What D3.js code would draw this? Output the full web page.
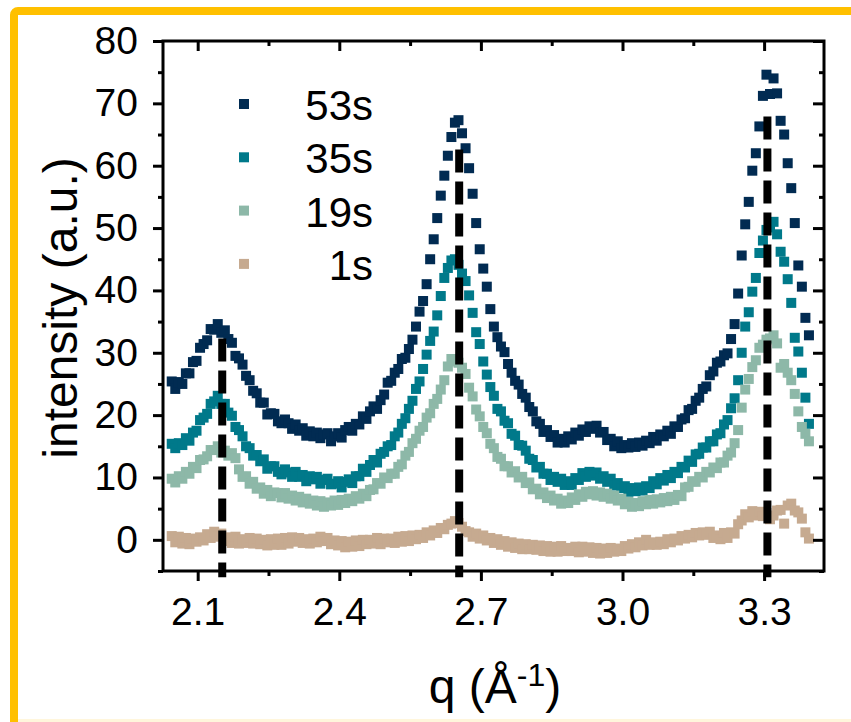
<!DOCTYPE html>
<html>
<head>
<meta charset="utf-8">
<script src="https://cdn.jsdelivr.net/npm/d3@7/dist/d3.min.js"></script>
<style>
  html, body { margin: 0; padding: 0; background: #fff; }
  svg { display: block; }
  text { font-family: "Liberation Sans", Arial, Helvetica, sans-serif; fill: #000; }
</style>
</head>
<body>
<svg id="chart" width="851" height="722"></svg>
<script>
// Scattering vector q (1/Å), shared by every time point
const qValues = [
  2.045,2.0525,2.06,2.0675,2.075,2.0825,2.09,2.0975,2.105,2.1125,
  2.12,2.1275,2.135,2.1425,2.15,2.1575,2.165,2.1725,2.18,2.1875,
  2.195,2.2025,2.21,2.2175,2.225,2.2325,2.24,2.2475,2.255,2.2625,
  2.27,2.2775,2.285,2.2925,2.3,2.3075,2.315,2.3225,2.33,2.3375,
  2.345,2.3525,2.36,2.3675,2.375,2.3825,2.39,2.3975,2.405,2.4125,
  2.42,2.4275,2.435,2.4425,2.45,2.4575,2.465,2.4725,2.48,2.4875,
  2.495,2.5025,2.51,2.5175,2.525,2.5325,2.54,2.5475,2.555,2.5625,
  2.57,2.5775,2.585,2.5925,2.6,2.6075,2.615,2.6225,2.63,2.6375,
  2.645,2.6525,2.66,2.6675,2.675,2.6825,2.69,2.6975,2.705,2.7125,
  2.72,2.7275,2.735,2.7425,2.75,2.7575,2.765,2.7725,2.78,2.7875,
  2.795,2.8025,2.81,2.8175,2.825,2.8325,2.84,2.8475,2.855,2.8625,
  2.87,2.8775,2.885,2.8925,2.9,2.9075,2.915,2.9225,2.93,2.9375,
  2.945,2.9525,2.96,2.9675,2.975,2.9825,2.99,2.9975,3.005,3.0125,
  3.02,3.0275,3.035,3.0425,3.05,3.0575,3.065,3.0725,3.08,3.0875,
  3.095,3.1025,3.11,3.1175,3.125,3.1325,3.14,3.1475,3.155,3.1625,
  3.17,3.1775,3.185,3.1925,3.2,3.2075,3.215,3.2225,3.23,3.2375,
  3.245,3.2525,3.26,3.2675,3.275,3.2825,3.29,3.2975,3.305,3.3125,
  3.32,3.3275,3.335,3.3425,3.35,3.3575,3.365,3.3725,3.38,3.3875,
  3.395
];

// Intensity (a.u.) at 53 s
const intensity53s = [
  25.4,24.2,25.3,25.0,26.7,26.7,28.5,28.7,30.8,31.4,
  32.0,33.8,33.7,34.6,33.2,33.6,32.2,31.6,29.5,29.1,
  28.1,26.3,25.6,23.9,23.5,22.0,22.0,20.1,20.3,20.2,
  19.0,18.7,19.3,18.7,17.8,18.5,17.5,17.9,16.7,17.4,
  16.6,17.2,16.3,16.9,17.1,15.8,16.6,17.1,16.4,17.6,
  18.1,17.5,18.6,18.5,19.8,19.4,20.6,21.4,21.0,22.4,
  23.3,25.2,25.5,26.8,27.4,29.0,29.2,30.6,32.1,34.2,
  36.6,38.3,41.0,45.0,48.2,51.6,55.2,58.4,61.6,64.6,
  66.9,67.3,65.2,62.8,59.6,55.5,50.8,46.6,43.5,40.6,
  37.0,34.2,32.5,31.0,30.1,28.2,26.8,25.5,24.9,23.4,
  22.8,21.3,20.6,19.0,18.6,17.3,17.6,16.5,16.8,15.6,
  16.2,15.6,16.6,16.1,17.2,16.7,17.7,17.3,18.2,17.8,
  18.3,17.2,17.3,16.0,16.2,15.0,15.8,14.7,15.2,14.8,
  15.5,14.9,15.6,15.1,15.9,15.5,16.5,15.9,16.9,16.6,
  17.5,17.0,18.2,18.1,19.3,19.5,20.8,21.0,22.3,22.8,
  24.2,24.6,26.4,27.0,28.4,28.6,29.6,29.9,32.2,34.6,
  39.5,45.6,50.6,54.2,59.2,62.0,66.3,71.2,74.6,71.5,
  74.0,71.6,67.2,65.0,60.4,56.4,50.8,44.0,40.6,35.6,
  32.8
];

// Intensity (a.u.) at 35 s
const intensity35s = [
  15.4,14.7,15.5,15.2,16.3,15.9,17.2,17.5,19.2,19.6,
  20.2,21.8,22.2,23.1,21.8,21.8,20.4,19.9,18.1,17.6,
  16.6,15.0,14.7,13.5,13.6,12.6,12.9,11.4,11.8,11.8,
  10.9,10.5,11.3,10.8,10.1,10.9,10.1,10.4,9.4,10.2,
  9.7,10.1,9.0,9.6,9.8,8.9,9.0,9.4,8.4,9.3,
  9.7,9.1,10.2,10.2,11.4,10.9,12.0,12.8,12.4,13.8,
  14.1,15.0,15.2,16.6,17.2,18.6,19.5,21.0,22.3,24.2,
  25.4,27.4,29.7,31.9,33.4,36.0,39.1,42.0,43.6,44.8,
  45.0,44.1,42.7,41.5,39.2,36.4,33.3,31.4,28.6,26.5,
  24.5,23.1,21.0,20.6,19.1,18.7,17.0,16.7,15.2,15.1,
  14.3,13.0,12.8,11.6,11.7,10.6,10.6,9.6,10.1,9.3,
  9.8,8.8,9.4,8.8,9.9,9.6,10.7,10.1,10.9,10.3,
  10.8,9.8,10.2,9.3,9.8,8.7,9.1,8.3,8.6,7.7,
  8.3,7.8,8.4,7.9,8.6,8.3,9.4,8.9,9.9,9.5,
  10.4,9.9,10.9,10.7,11.7,11.6,12.7,12.5,13.7,13.8,
  14.8,14.8,15.8,15.8,16.9,17.1,18.5,19.2,21.1,22.7,
  25.6,30.0,34.2,36.5,39.8,42.0,46.0,48.0,49.7,50.1,
  51.0,49.0,46.2,44.6,41.8,38.0,32.4,30.2,26.8,22.8,
  18.6
];

// Intensity (a.u.) at 19 s
const intensity19s = [
  9.8,9.2,10.2,9.8,10.9,10.6,11.7,11.5,12.8,12.9,
  13.4,14.4,14.4,15.0,14.0,14.3,13.5,13.9,13.1,11.3,
  10.1,10.2,9.0,9.3,8.2,8.4,7.4,8.0,7.0,7.6,
  7.5,6.8,7.5,6.6,7.1,6.3,6.9,6.0,6.6,5.8,
  6.3,5.5,6.2,5.3,6.0,5.5,6.3,5.6,6.4,5.9,
  6.6,6.2,7.0,6.6,7.4,7.0,8.0,8.1,9.1,9.0,
  10.0,9.9,10.6,10.6,11.7,12.1,13.5,14.1,15.5,16.2,
  17.5,18.1,19.6,20.3,21.8,22.6,24.1,25.6,27.8,29.0,
  28.6,28.4,27.6,26.6,24.4,23.0,20.9,19.8,18.1,17.1,
  15.4,14.7,13.3,13.0,11.8,11.8,10.8,11.0,10.0,10.1,
  9.1,9.2,8.1,8.2,7.3,7.6,6.7,7.1,6.3,6.6,
  5.8,6.3,5.9,6.8,6.4,7.3,6.9,7.7,7.3,7.8,
  7.1,7.6,6.9,7.4,6.6,7.1,6.3,6.6,5.7,6.1,
  5.3,5.9,5.4,6.2,5.7,6.4,5.8,6.5,6.0,6.7,
  6.2,6.9,6.4,7.2,7.0,8.4,8.5,9.4,9.3,10.1,
  10.0,10.9,10.8,11.6,11.5,12.4,12.4,13.5,14.0,15.5,
  17.6,21.2,24.1,25.8,27.7,28.8,30.8,31.3,32.1,32.3,
  32.8,31.5,27.6,28.2,26.8,25.6,23.4,20.6,18.1,17.0,
  15.8
];

// Intensity (a.u.) at 1 s
const intensity1s = [
  0.6,-0.4,0.5,-0.6,0.3,-0.7,0.2,-0.3,0.4,-0.1,
  0.9,0.3,1.3,0.5,1.0,-0.2,0.4,-0.5,0.5,-0.6,
  0.1,-0.5,0.3,-0.6,0.2,-0.7,0.0,-0.9,0.1,-0.8,
  0.2,-0.8,0.3,-0.6,0.4,-0.3,0.3,-0.5,0.1,-0.6,
  0.2,-0.4,0.5,-0.2,0.3,-0.7,-0.1,-0.9,-0.2,-1.2,
  -0.3,-1.1,-0.1,-1.0,0.0,-0.7,0.0,-0.6,0.3,-0.7,
  0.2,-0.4,0.2,-0.5,0.5,-0.3,0.6,-0.2,0.7,0.1,
  0.8,0.3,1.2,0.7,1.5,1.1,1.9,1.7,2.4,2.6,
  3.0,2.7,2.1,1.4,1.2,0.5,1.0,0.2,0.7,-0.1,
  0.3,-0.5,0.1,-0.8,-0.2,-1.1,-0.4,-1.3,-0.6,-1.5,
  -0.7,-1.5,-0.8,-1.6,-0.9,-1.8,-1.0,-1.9,-1.1,-1.9,
  -1.0,-1.8,-1.3,-1.8,-1.1,-2.0,-1.1,-1.9,-1.2,-2.1,
  -1.3,-2.2,-1.4,-2.1,-1.3,-1.9,-1.4,-1.8,-1.0,-1.4,
  -0.7,-1.2,-0.4,-0.9,0.0,-0.8,-0.4,-0.8,-0.3,-0.7,
  0.1,-0.4,0.2,-0.1,0.6,0.2,0.8,0.4,1.1,0.7,
  1.2,0.8,1.3,0.3,0.7,0.1,1.1,0.3,1.2,1.0,
  2.5,3.1,4.1,3.6,4.6,3.9,4.5,3.8,4.3,3.3,
  3.9,4.7,4.8,2.6,5.5,5.8,4.7,4.4,3.4,1.2,
  0.2
];

const seriesNames = ["53s", "35s", "19s", "1s"];
const seriesColors = ["#012b52", "#00798a", "#8db8a8", "#c6aa90"];
const seriesValues = [intensity53s, intensity35s, intensity19s, intensity1s];

// Reflection positions marked by dashed guides, with the intensity each guide reaches
const guideQ = [2.152, 2.654, 3.307];
const guideTop = [32.3, 62.6, 67.9];
const guideBottom = -6;

// Axis ticks
const xMajorTicks = [2.1, 2.4, 2.7, 3.0, 3.3];
const xMinorTicks = [2.25, 2.55, 2.85, 3.15];
const yMajorTicks = [0, 10, 20, 30, 40, 50, 60, 70, 80];
const yMinorTicks = [-5, 5, 15, 25, 35, 45, 55, 65, 75];

const plot = { left: 163, right: 824, top: 41, bottom: 571 };

const svg = d3.select("#chart");

// Orange outer frame (only the top and left edges fall inside the canvas)
svg.append("rect")
  .attr("x", 14).attr("y", 11)
  .attr("width", 1000).attr("height", 1000)
  .attr("rx", 4)
  .attr("fill", "none")
  .attr("stroke", "#ffc000")
  .attr("stroke-width", 8);
svg.append("rect")
  .attr("x", 18).attr("y", 719)
  .attr("width", 833).attr("height", 3)
  .attr("fill", "#fff6dc");

const x = d3.scaleLinear().domain([2.0265, 3.4269]).range([plot.left, plot.right]);
const y = d3.scaleLinear().domain([-5, 80]).range([plot.bottom, plot.top]);

// Data markers: filled squares, drawn in legend order
const markerSize = 10;
seriesValues.forEach((vals, i) => {
  svg.append("g")
    .selectAll("rect")
    .data(qValues.map((q, j) => ({ q, v: vals[j] })))
    .join("rect")
    .attr("x", d => x(d.q) - markerSize / 2)
    .attr("y", d => y(d.v) - markerSize / 2)
    .attr("width", markerSize)
    .attr("height", markerSize)
    .attr("fill", seriesColors[i]);
});

// Dashed guides at the reflection positions
svg.append("g")
  .selectAll("line")
  .data(guideQ.map((q, i) => ({ q, top: guideTop[i] })))
  .join("line")
  .attr("x1", d => x(d.q)).attr("x2", d => x(d.q))
  .attr("y1", d => y(d.top)).attr("y2", y(guideBottom))
  .attr("stroke", "#000")
  .attr("stroke-width", 8)
  .attr("stroke-dasharray", "23,9");

// Axes
const tickFont = 39;
function styleAxis(g) {
  g.select(".domain").remove();
  g.selectAll(".tick line").attr("stroke", "#000").attr("stroke-width", 3);
  g.selectAll(".tick text").style("font-size", tickFont + "px").attr("fill", "#000");
}

svg.append("g")
  .attr("transform", `translate(0,${plot.bottom})`)
  .call(d3.axisBottom(x).tickValues(xMajorTicks).tickFormat(d3.format(".1f")).tickSize(10).tickPadding(16))
  .call(styleAxis);
svg.append("g")
  .attr("transform", `translate(0,${plot.bottom})`)
  .call(d3.axisBottom(x).tickValues(xMinorTicks).tickFormat("").tickSize(5))
  .call(styleAxis);
svg.append("g")
  .attr("transform", `translate(${plot.left},0)`)
  .call(d3.axisLeft(y).tickValues(yMajorTicks).tickSize(10).tickPadding(15))
  .call(styleAxis);
svg.append("g")
  .attr("transform", `translate(${plot.left},0)`)
  .call(d3.axisLeft(y).tickValues(yMinorTicks).tickFormat("").tickSize(5))
  .call(styleAxis);
// Mirror ticks on the top and right edges point inward
svg.append("g")
  .attr("transform", `translate(0,${plot.top})`)
  .call(d3.axisTop(x).tickValues(xMajorTicks).tickFormat("").tickSize(-10))
  .call(styleAxis);
svg.append("g")
  .attr("transform", `translate(0,${plot.top})`)
  .call(d3.axisTop(x).tickValues(xMinorTicks).tickFormat("").tickSize(-5))
  .call(styleAxis);
svg.append("g")
  .attr("transform", `translate(${plot.right},0)`)
  .call(d3.axisRight(y).tickValues(yMajorTicks).tickFormat("").tickSize(-11))
  .call(styleAxis);
svg.append("g")
  .attr("transform", `translate(${plot.right},0)`)
  .call(d3.axisRight(y).tickValues(yMinorTicks).tickFormat("").tickSize(-5))
  .call(styleAxis);

// Plot frame
svg.append("rect")
  .attr("x", plot.left).attr("y", plot.top)
  .attr("width", plot.right - plot.left).attr("height", plot.bottom - plot.top)
  .attr("fill", "none")
  .attr("stroke", "#000")
  .attr("stroke-width", 3);

// Axis titles
const xTitle = svg.append("text")
  .attr("x", 495).attr("y", 703)
  .attr("text-anchor", "middle")
  .style("font-size", "48px");
xTitle.append("tspan").text("q (Å");
xTitle.append("tspan").attr("dy", -17).style("font-size", "32px").text("-1");
xTitle.append("tspan").attr("dy", 17).text(")");

svg.append("text")
  .attr("transform", "translate(77,308) rotate(-90)")
  .attr("text-anchor", "middle")
  .style("font-size", "48px")
  .text("intensity (a.u.)");

// Legend
const legend = svg.append("g");
const legendY0 = 104, legendStep = 53.3;
seriesNames.forEach((name, i) => {
  const cy = legendY0 + i * legendStep;
  legend.append("rect")
    .attr("x", 239).attr("y", cy - 5)
    .attr("width", 10).attr("height", 10)
    .attr("fill", seriesColors[i]);
  legend.append("text")
    .attr("x", 373).attr("y", cy + 16)
    .attr("text-anchor", "end")
    .style("font-size", "42px")
    .text(name);
});
</script>
</body>
</html>
